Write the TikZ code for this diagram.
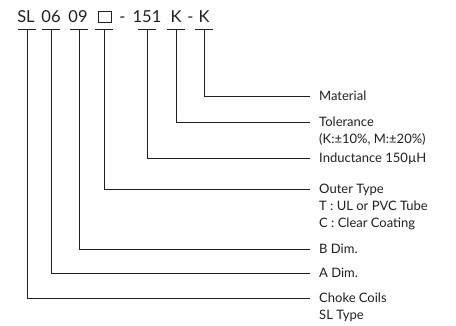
\documentclass[tikz,border=0pt]{standalone}
\usepackage{fontspec}
\setmainfont{Lato}
\definecolor{ink}{HTML}{231F20}
\begin{document}
\begin{tikzpicture}[x=1pt,y=-1pt,
  code/.style={inner sep=0pt,anchor=base,font=\fontsize{16.5}{19}\selectfont,text=ink},
  lbl/.style={inner sep=0pt,anchor=base west,font=\fontsize{13}{15}\selectfont,text=ink},
  wire/.style={draw=ink,line width=0.9pt},
  tbar/.style={draw=ink,line width=0.9pt}]
\useasboundingbox (0,0) rectangle (456,326);
% code parts
\node[code] (cSL) at (26,23) {SL};
\node[code] (c06) at (51,23) {06};
\node[code] (c09) at (78,23) {09};
\node[draw=ink,line width=0.8pt,minimum width=13pt,minimum height=11.5pt,inner sep=0pt,anchor=south] (cBox) at (104.5,23) {};
\node[code] (d1) at (122.5,23) {-};
\node[code] (c151) at (147,23) {151};
\node[code] (cK1) at (176,23) {K};
\node[code] (d2) at (190.5,23) {-};
\node[code] (cK2) at (204,23) {K};
% T tops
\foreach \n/\x in {SL/27,06/51,09/79,Box/104,151/147,K1/176,K2/204}{
  \coordinate (t\n) at (\x,29);
  \draw[tbar] ([xshift=-9]t\n) -- ([xshift=9]t\n);
}
% connector ends
\coordinate (eMat) at (310,96);
\coordinate (eTol) at (310,122);
\coordinate (eInd) at (310,158.5);
\coordinate (eOut) at (310,189.5);
\coordinate (eB) at (310,249.5);
\coordinate (eA) at (310,273.5);
\coordinate (eCh) at (310,298.5);
\draw[wire] (tK2) |- (eMat);
\draw[wire] (tK1) |- (eTol);
\draw[wire] (t151) |- (eInd);
\draw[wire] (tBox) |- (eOut);
\draw[wire] (t09) |- (eB);
\draw[wire] (t06) |- (eA);
\draw[wire] (tSL) |- (eCh);
% labels
\node[lbl] (lMat) at ([xshift=9,yshift=-4.5]eMat) {Material};
\node[lbl] (lTol) at ([xshift=9,yshift=-4.5]eTol) {Tolerance};
\node[lbl] (lTol2) at ([yshift=-17]lTol.base west) {(K:±10\%, M:±20\%)};
\node[lbl] (lInd) at ([xshift=9,yshift=-4.5]eInd) {Inductance 150µH};
\node[lbl] (lOut) at ([xshift=9,yshift=-4.5]eOut) {Outer Type};
\node[lbl] (lOut2) at ([yshift=-17]lOut.base west) {T : UL or PVC Tube};
\node[lbl] (lOut3) at ([yshift=-17]lOut2.base west) {C : Clear Coating};
\node[lbl] (lB) at ([xshift=9,yshift=-4.5]eB) {B Dim.};
\node[lbl] (lA) at ([xshift=9,yshift=-4.5]eA) {A Dim.};
\node[lbl] (lCh) at ([xshift=9,yshift=-4.5]eCh) {Choke Coils};
\node[lbl] (lCh2) at ([yshift=-17]lCh.base west) {SL Type};
\end{tikzpicture}
\end{document}
